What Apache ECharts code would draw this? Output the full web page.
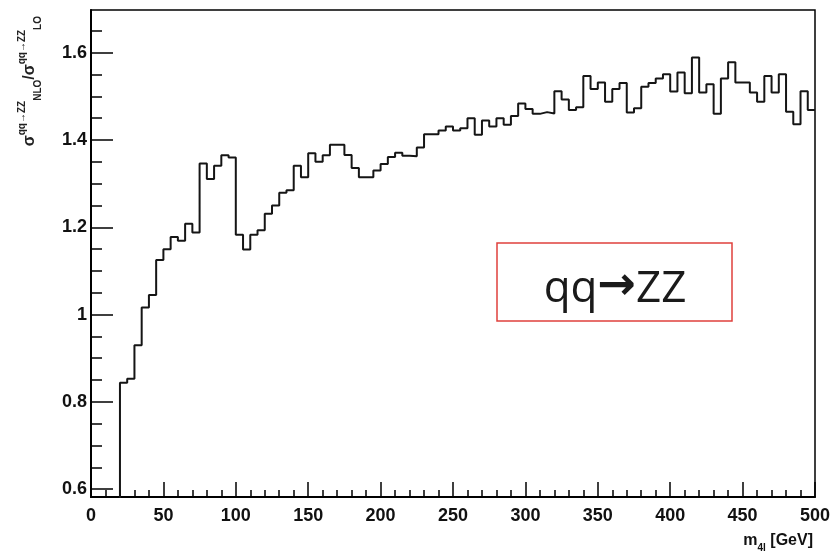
<!DOCTYPE html>
<html>
<head>
<meta charset="utf-8">
<title>qq→ZZ NLO/LO ratio</title>
<script src="https://cdn.jsdelivr.net/npm/echarts@6/dist/echarts.min.js"></script>
<style>
    html, body { margin: 0; padding: 0; background: #fff; }
    #chart { width: 836px; height: 552px; }
</style>
</head>
<body>
<div id="chart"></div>
<script>
// m4l histogram, 5 GeV bins from 0 to 500 GeV
const binWidth = 5;
// sigma_NLO / sigma_LO per bin (first 4 bins are empty)
const ratio = [
    0, 0, 0, 0, 0.844, 0.853, 0.930, 1.016, 1.045, 1.125,
    1.150, 1.178, 1.169, 1.208, 1.188, 1.346, 1.311, 1.341, 1.365, 1.360,
    1.183, 1.149, 1.183, 1.193, 1.231, 1.250, 1.279, 1.285, 1.341, 1.315,
    1.370, 1.350, 1.365, 1.389, 1.389, 1.366, 1.336, 1.315, 1.315, 1.330,
    1.345, 1.361, 1.371, 1.364, 1.363, 1.383, 1.413, 1.413, 1.422, 1.431,
    1.422, 1.427, 1.450, 1.412, 1.445, 1.431, 1.450, 1.435, 1.455, 1.484,
    1.471, 1.460, 1.464, 1.461, 1.512, 1.493, 1.469, 1.475, 1.547, 1.517,
    1.532, 1.488, 1.517, 1.531, 1.463, 1.473, 1.522, 1.531, 1.541, 1.551,
    1.511, 1.555, 1.507, 1.589, 1.509, 1.528, 1.460, 1.541, 1.578, 1.532,
    1.532, 1.509, 1.488, 1.547, 1.509, 1.551, 1.465, 1.436, 1.512, 1.469
];
const yLabels = [0.6, 0.8, 1, 1.2, 1.4, 1.6];
const yMinorTicks = [0.6, 0.65, 0.7, 0.75, 0.8, 0.85, 0.9, 0.95, 1, 1.05, 1.1, 1.15,
    1.2, 1.25, 1.3, 1.35, 1.4, 1.45, 1.5, 1.55, 1.6, 1.65];
const xRange = [0, 500];
const yRange = [0.582, 1.698];

// step line: [low edge, value] + closing point at the last upper edge
const stepData = ratio.map((v, i) => [i * binWidth, v]);
stepData.push([ratio.length * binWidth, ratio[ratio.length - 1]]);

const labelFont = {
    color: "#111",
    fontFamily: "Liberation Sans",
    fontWeight: "bold",
    fontSize: 18,
};
const titleFont = { fontFamily: "Liberation Sans", fontWeight: "bold", fill: "#222" };

let chart = echarts.init(document.getElementById("chart"), null, { renderer: "canvas" });
let option = {
    animation: false,
    backgroundColor: "#fff",
    grid: {
        left: 91,
        right: 21,
        top: 10,
        bottom: 55,
        show: true,
        borderColor: "#000",
        borderWidth: 1.5,
    },
    xAxis: {
        type: "value",
        min: xRange[0],
        max: xRange[1],
        interval: 50,
        axisLine: { lineStyle: { color: "#000", width: 2 } },
        axisTick: { inside: true, length: 15, lineStyle: { color: "#000", width: 1.5 } },
        minorTick: { show: true, splitNumber: 5, length: 7, lineStyle: { color: "#000", width: 1.5 } },
        splitLine: { show: false },
        axisLabel: Object.assign({ margin: 10 }, labelFont),
    },
    yAxis: [
        {
            type: "value",
            min: yRange[0],
            max: yRange[1],
            axisLine: { show: true, lineStyle: { color: "#000", width: 2 } },
            axisTick: { customValues: yLabels, inside: true, length: 22, lineStyle: { color: "#000", width: 1.5 } },
            axisLabel: Object.assign({ customValues: yLabels, margin: 4 }, labelFont),
            splitLine: { show: false },
        },
        {
            // minor ticks only
            type: "value",
            position: "left",
            min: yRange[0],
            max: yRange[1],
            axisLine: { show: false },
            axisTick: { customValues: yMinorTicks, inside: true, length: 11, lineStyle: { color: "#000", width: 1.5 } },
            axisLabel: { show: false },
            splitLine: { show: false },
        },
    ],
    series: [
        {
            type: "line",
            step: "end",
            data: stepData,
            showSymbol: false,
            clip: true,
            lineStyle: { color: "#151515", width: 2 },
        },
    ],
    graphic: [
        {
            type: "text",
            x: 30,
            y: 16,
            rotation: Math.PI / 2,
            style: {
                text: "{s|σ}{sup|qq→ZZ}{sub|NLO}{s|/σ}{sup|qq→ZZ}{sub|LO}",
                align: "right",
                verticalAlign: "middle",
                rich: {
                    s: Object.assign({ fontSize: 16, lineHeight: 26, verticalAlign: "middle" }, titleFont),
                    sup: Object.assign({ fontSize: 10, verticalAlign: "top", lineHeight: 12 }, titleFont),
                    sub: Object.assign({ fontSize: 10, verticalAlign: "bottom", lineHeight: 12 }, titleFont),
                },
            },
        },
        {
            type: "text",
            x: 813,
            y: 533,
            style: {
                text: "{m|m}{sub|4l}{m| [GeV]}",
                align: "right",
                verticalAlign: "top",
                rich: {
                    m: { fontSize: 16, fontFamily: "Liberation Sans", fontWeight: "bold", fill: "#111", verticalAlign: "top", lineHeight: 16 },
                    sub: { fontSize: 10, fontFamily: "Liberation Sans", fontWeight: "bold", fill: "#111", verticalAlign: "bottom", lineHeight: 20 },
                },
            },
        },
        {
            type: "rect",
            shape: { x: 497, y: 243, width: 235, height: 78 },
            style: { fill: "#fff", stroke: "#e0403c", lineWidth: 1.5 },
        },
        {
            type: "text",
            x: 615,
            y: 289,
            style: {
                text: "{t|qq}{a|→}{t|ZZ}",
                align: "center",
                verticalAlign: "middle",
                rich: {
                    t: { fontSize: 44, fontFamily: "Open Sans", fill: "#1a1a1a", lineHeight: 52, verticalAlign: "middle" },
                    a: { fontSize: 46, fontFamily: "DejaVu Sans", fontWeight: "bold", fill: "#1a1a1a", lineHeight: 52, verticalAlign: "middle", padding: [0, 0, 4, 0] },
                },
            },
        },
    ],
};
chart.setOption(option);
</script>
</body>
</html>
